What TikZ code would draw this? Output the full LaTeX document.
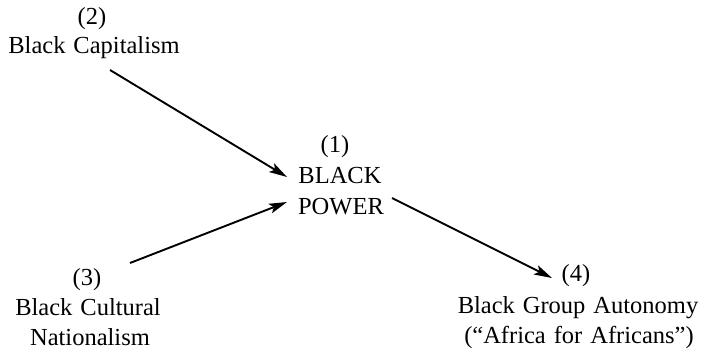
\documentclass[tikz,border=0pt]{standalone}
\usepackage{fontspec}
\setmainfont{Liberation Serif}[WordSpace=1.3]
\usetikzlibrary{arrows.meta}
\begin{document}
\begin{tikzpicture}[x=1pt,y=-1pt,
  lbl/.style={anchor=base,inner sep=0pt,font=\fontsize{24.5}{30}\selectfont},
  arr/.style={line width=1.9pt,-{Stealth[length=18pt,width=10pt,inset=4pt]}}]
\useasboundingbox (0,0) rectangle (710,351);
% (2) Black Capitalism
\node[lbl] (k2) at (92,24) {(2)};
\node[lbl] (n2) at (94,53) {Black Capitalism};
% (1) Black Power
\node[lbl] (k1) at (335,152) {(1)};
\node[lbl] (n1a) at (340,183) {BLACK};
\node[lbl] (n1b) at (341,214) {POWER};
% (3) Black Cultural Nationalism
\node[lbl] (k3) at (87,285) {(3)};
\node[lbl] (n3a) at (88,315) {Black Cultural};
\node[lbl] (n3b) at (90,345) {Nationalism};
% (4) Black Group Autonomy
\node[lbl] (k4) at (576,281) {(4)};
\node[lbl] (n4a) at (578,313) {Black Group Autonomy};
\node[lbl] (n4b) at (579,343) {(``Africa for Africans'')};
% connector end points, placed against the labels
\coordinate (s2) at ([shift={(16,17)}]n2.base);
\coordinate (t2) at ([shift={(-53,-6)}]n1a.base);
\coordinate (s3) at ([shift={(43,-22)}]k3.base);
\coordinate (t3) at ([shift={(-54,-12)}]n1b.base);
\coordinate (s1) at ([shift={(51,-16)}]n1b.base);
\coordinate (t4) at ([shift={(-24,-3)}]k4.base);
\draw[arr] (s2) -- (t2);
\draw[arr] (s3) -- (t3);
\draw[arr] (s1) -- (t4);
\end{tikzpicture}
\end{document}
